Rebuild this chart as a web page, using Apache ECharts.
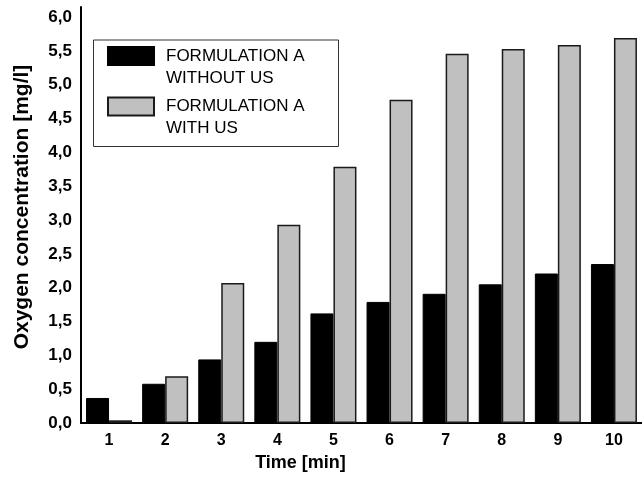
<!DOCTYPE html>
<html><head><meta charset="utf-8">
<script src="https://cdn.jsdelivr.net/npm/echarts@6/dist/echarts.min.js"></script>
<style>html,body{margin:0;padding:0;background:#fff}#c{width:642px;height:477px}</style>
</head><body><div id="c"></div>
<script>
const categories = ['1', '2', '3', '4', '5', '6', '7', '8', '9', '10'];
const seriesNames = ['FORMULATION A\nWITHOUT US', 'FORMULATION A\nWITH US'];
const withoutUS = [0.37, 0.58, 0.94, 1.20, 1.62, 1.79, 1.91, 2.05, 2.21, 2.35];
const withUS = [0.04, 0.69, 2.07, 2.93, 3.79, 4.78, 5.46, 5.53, 5.59, 5.69];
const yTickMax = 6.0;
const yTickStep = 0.5;

const FONT = 'Liberation Sans, Arial, sans-serif';
const chart = echarts.init(document.getElementById('c'), null, {renderer: 'canvas'});
chart.setOption({
  animation: false,
  backgroundColor: '#fff',
  grid: {left: 81, right: 0, top: 7, bottom: 54, containLabel: false},
  graphic: [{
    type: 'rect', left: 93, top: 39.5, z: 0,
    shape: {width: 245, height: 106.5},
    style: {fill: '#fff', stroke: '#333', lineWidth: 1}
  }],
  legend: {
    orient: 'vertical', left: 107, top: 23, padding: 0,
    itemWidth: 46, itemHeight: 18, itemGap: -15.5, icon: 'rect',
    selectedMode: false, z: 5,
    formatter: function (name) { return '\n' + name; },
    textStyle: {fontFamily: FONT, fontSize: 17, color: '#000', lineHeight: 22, padding: [0, 0, 0, 7]},
    data: seriesNames
  },
  xAxis: {
    type: 'category', data: categories, boundaryGap: true,
    name: 'Time [min]', nameLocation: 'middle', nameGap: 30,
    nameTextStyle: {fontFamily: FONT, fontSize: 18, fontWeight: 'bold', color: '#000', padding: [0, 122, 0, 0]},
    axisLine: {lineStyle: {color: '#000', width: 2}},
    axisTick: {show: false},
    axisLabel: {fontFamily: FONT, fontSize: 16, fontWeight: 'bold', color: '#000', margin: 10}
  },
  yAxis: {
    type: 'value', min: 0, max: 6.15, interval: yTickStep,
    name: 'Oxygen concentration [mg/l]', nameLocation: 'middle', nameGap: 48,
    nameTextStyle: {fontFamily: FONT, fontSize: 21, fontWeight: 'bold', color: '#000', padding: [0, 0, 0, 16]},
    axisLine: {show: true, lineStyle: {color: '#000', width: 2}},
    axisTick: {show: false},
    splitLine: {show: false},
    axisLabel: {
      fontFamily: FONT, fontSize: 17, fontWeight: 'bold', color: '#000', margin: 9,
      formatter: function (v) {
        const k = Math.round(v / yTickStep);
        if (Math.abs(k * yTickStep - v) > 1e-6 || v > yTickMax + 1e-6) return '';
        return v.toFixed(1).replace('.', ',');
      }
    }
  },
  series: [
    {name: seriesNames[0], type: 'bar', data: withoutUS, barWidth: 23, barGap: '0%',
     itemStyle: {color: '#000', borderColor: '#000', borderWidth: 1}},
    {name: seriesNames[1], type: 'bar', data: withUS, barWidth: 23,
     itemStyle: {color: '#c0c0c0', borderColor: '#1a1a1a', borderWidth: 1.5}}
  ]
});
</script></body></html>
